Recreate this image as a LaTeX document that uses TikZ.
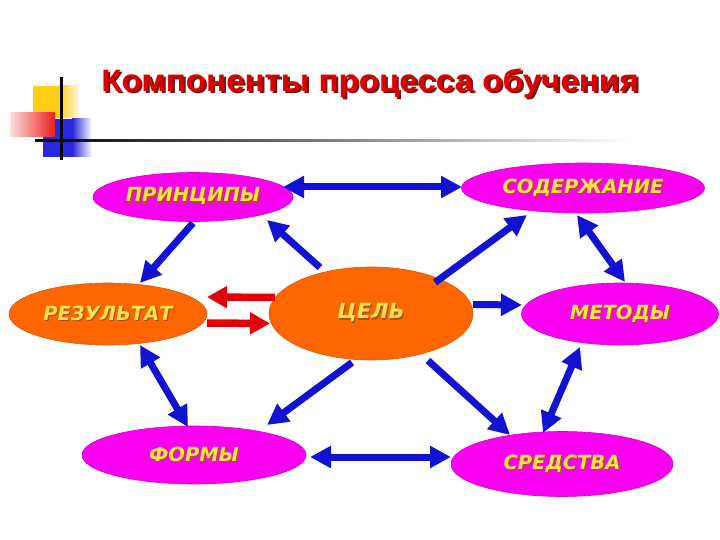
\documentclass[tikz,border=0pt]{standalone}
\usepackage{fontspec}
\setmainfont{Liberation Sans}
\newfontfamily\nodefont{DejaVu Sans}
\usetikzlibrary{arrows.meta,shapes.geometric}

\definecolor{mag}{RGB}{250,0,240}
\definecolor{magd}{RGB}{215,0,200}
\definecolor{org}{RGB}{255,102,0}
\definecolor{orgd}{RGB}{230,85,0}
\definecolor{txty}{RGB}{255,225,75}
\definecolor{txts}{RGB}{170,80,30}
\definecolor{arrb}{RGB}{18,18,210}
\definecolor{arrr}{RGB}{228,0,10}
\definecolor{titr}{RGB}{222,0,0}
\definecolor{tits}{RGB}{120,20,20}
\definecolor{sqy}{RGB}{255,205,20}
\definecolor{sqb}{RGB}{40,40,220}
\definecolor{sqr}{RGB}{235,30,30}

\newcommand{\shnodetext}[1]{\makebox[0pt]{\makebox[0pt][l]{\hspace{1.3pt}\raisebox{-1.3pt}{\color{txts}#1}}#1}}
\newcommand{\shtitletext}[1]{\scalebox{1.07}[1]{\makebox[0pt][l]{\hspace{2pt}\raisebox{-2pt}{\color{tits}#1}}#1}}

\tikzset{
  comp/.style={ellipse, inner sep=0pt, text=txty, line width=0.6pt,
    font=\nodefont\bfseries\itshape\fontsize{19.5}{24}\selectfont},
  magbox/.style={comp, fill=mag, draw=magd},
  orgbox/.style={comp, fill=org, draw=orgd},
  barrow/.style={draw=arrb, line width=7pt, -{Triangle[length=21pt,width=21pt]}},
  bbarrow/.style={draw=arrb, line width=7pt, {Triangle[length=21pt,width=21pt]}-{Triangle[length=21pt,width=21pt]}},
  rarrow/.style={draw=arrr, line width=7.5pt, -{Triangle[length=20pt,width=21pt]}},
}

\begin{document}
\begin{tikzpicture}[x=1pt,y=-1pt]
\useasboundingbox (0,0) rectangle (720,540);
\fill[white] (0,0) rectangle (720,540);

% decoration
\fill[sqy] (33,86) rectangle (58,118);
\shade[left color=sqy, right color=sqy!20] (58,86) rectangle (78,118);
\fill[sqb] (43,119) rectangle (72,157);
\shade[left color=sqb, right color=white] (72,119) rectangle (92,157);
\shade[left color=sqr!15, right color=sqr] (10,113) rectangle (55,137);
\shade[left color=black, right color=white] (35,140) rectangle (630,142);
\fill[black] (60,77) rectangle (62.5,160);

% title
\node[anchor=base, text=titr, font=\bfseries\fontsize{31}{36}\selectfont, inner sep=0pt] (title) at (370,92) {\shtitletext{Компоненты процесса обучения}};

% nodes
\node[magbox, minimum width=200pt, minimum height=49pt] (prin) at (193,197) {\shnodetext{ПРИНЦИПЫ}};
\node[magbox, minimum width=243pt, minimum height=50pt] (sod) at (583,188) {\shnodetext{СОДЕРЖАНИЕ}};
\node[orgbox, minimum width=198pt, minimum height=62pt] (rez) at (108,314) {\shnodetext{РЕЗУЛЬТАТ}};
\node[orgbox, minimum width=204pt, minimum height=93pt, font=\nodefont\bfseries\itshape\fontsize{21}{24}\selectfont] (cel) at (371,313.5) {\shnodetext{ЦЕЛЬ}};
\node[magbox, minimum width=197pt, minimum height=62pt] (met) at (620,314) {\shnodetext{МЕТОДЫ}};
\node[magbox, minimum width=224pt, minimum height=58pt] (form) at (194,455) {\shnodetext{ФОРМЫ}};
\node[magbox, minimum width=222pt, minimum height=65pt] (sred) at (562,464) {\shnodetext{СРЕДСТВА}};

% connectors
\draw[bbarrow] ([shift={(90,-10)}]prin.center) -- ([shift={(-121,-1)}]sod.center);
\draw[barrow] ([shift={(0,26)}]prin.center) -- ([shift={(32,-31)}]rez.center);
\draw[barrow] ([shift={(-51,-46)}]cel.center) -- ([shift={(74,23)}]prin.center);
\draw[barrow] ([shift={(64,-31)}]cel.center) -- ([shift={(-56,27)}]sod.center);
\draw[bbarrow] ([shift={(-6,27)}]sod.center) -- ([shift={(5,-32)}]met.center);
\draw[barrow] ([shift={(102,-9)}]cel.center) -- ([shift={(-98,-9)}]met.center);
\draw[bbarrow] ([shift={(-40,33)}]met.center) -- ([shift={(-19,-31)}]sred.center);
\draw[barrow] ([shift={(57,47)}]cel.center) -- ([shift={(-52,-29)}]sred.center);
\draw[bbarrow] ([shift={(116,2)}]form.center) -- ([shift={(-111,-7)}]sred.center);
\draw[barrow] ([shift={(-19,49)}]cel.center) -- ([shift={(73,-30)}]form.center);
\draw[bbarrow] ([shift={(32,31)}]rez.center) -- ([shift={(-6,-28)}]form.center);
\draw[rarrow] ([shift={(-96,-16)}]cel.center) -- ([shift={(99,-17)}]rez.center);
\draw[rarrow] ([shift={(99,9)}]rez.center) -- ([shift={(-101,10)}]cel.center);
\end{tikzpicture}
\end{document}
